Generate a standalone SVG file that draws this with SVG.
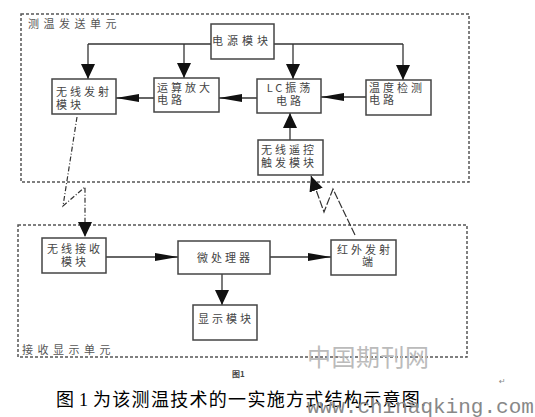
<svg xmlns="http://www.w3.org/2000/svg" width="535" height="417" viewBox="0 0 535 417">
<defs>
<style>
.unit{fill:none;stroke:#555;stroke-width:1.5;stroke-dasharray:3 2}
.box{fill:#fff;stroke:#444;stroke-width:1.5}
.lbl{font-family:"Noto Sans CJK SC","Liberation Sans",sans-serif;font-size:11px;fill:#444;letter-spacing:3px}
.ttl{font-family:"Noto Sans CJK SC","Liberation Sans",sans-serif;font-size:11px;fill:#555;letter-spacing:4.5px}
.ln{fill:none;stroke:#333;stroke-width:1.3}
.air{fill:none;stroke:#333;stroke-width:1.2;stroke-dasharray:5 2 1 2}
.air2{fill:none;stroke:#333;stroke-width:1.2;stroke-dasharray:8 2}
.cap{font-family:"Liberation Serif","Noto Sans CJK SC",serif;font-size:18px;fill:#000}
</style>
<marker id="big" markerUnits="userSpaceOnUse" markerWidth="16" markerHeight="14" viewBox="0 0 16 14" refX="15" refY="7" orient="auto">
<path d="M0,0 L15,7 L0,14 Z" fill="#111"/>
</marker>
<marker id="slim" markerUnits="userSpaceOnUse" markerWidth="24" markerHeight="10" viewBox="0 0 24 10" refX="23" refY="5" orient="auto">
<path d="M0,1 L23,5 L0,9 Z" fill="#111"/>
</marker>
</defs>
<rect width="535" height="417" fill="#fff"/>

<g id="unit-send">
<rect class="unit" x="21" y="14" width="448" height="168"/>
<text class="ttl" x="28" y="28">测温发送单元</text>
</g>
<g id="unit-recv">
<rect class="unit" x="18" y="225" width="449" height="132"/>
<text class="ttl" x="22" y="354">接收显示单元</text>
</g>

<g id="connectors">
<path class="ln" d="M88,44 H403"/>
<path class="ln" d="M88,44 V79" marker-end="url(#big)"/>
<path class="ln" d="M184,44 V78" marker-end="url(#big)"/>
<path class="ln" d="M293,44 V79" marker-end="url(#big)"/>
<path class="ln" d="M403,44 V80" marker-end="url(#big)"/>
<path class="ln" d="M154,98 H116" marker-end="url(#slim)"/>
<path class="ln" d="M257,98 H219" marker-end="url(#slim)"/>
<path class="ln" d="M366,97 H321" marker-end="url(#slim)"/>
<path class="ln" d="M290,140 V113" marker-end="url(#big)"/>
<path class="ln" d="M106,257 H178" marker-end="url(#slim)"/>
<path class="ln" d="M270,257 H331" marker-end="url(#slim)"/>
<path class="ln" d="M222,274 V305" marker-end="url(#big)"/>
<path class="air" d="M77,117 L63,206 L85,187 V237" marker-end="url(#big)"/>
<path class="air2" d="M355,235 L333,189 L324,212 L311,176" marker-end="url(#big)"/>
</g>

<g id="power">
<rect class="box" x="211" y="24" width="63" height="35"/>
<text class="lbl" x="212" y="45" style="letter-spacing:4px">电源模块</text>
</g>
<g id="tx">
<rect class="box" x="52" y="79" width="64" height="35"/>
<text class="lbl" x="56" y="96">无线发射</text>
<text class="lbl" x="56" y="109">模块</text>
</g>
<g id="amp">
<rect class="box" x="154" y="78" width="65" height="34"/>
<text class="lbl" x="157" y="92">运算放大</text>
<text class="lbl" x="157" y="104">电路</text>
</g>
<g id="lc">
<rect class="box" x="257" y="79" width="64" height="34"/>
<text class="lbl" x="290" y="92" text-anchor="middle">LC振荡</text>
<text class="lbl" x="290" y="105" text-anchor="middle">电路</text>
</g>
<g id="temp">
<rect class="box" x="366" y="80" width="65" height="35"/>
<text class="lbl" x="369" y="92">温度检测</text>
<text class="lbl" x="369" y="104">电路</text>
</g>
<g id="trigger">
<rect class="box" x="258" y="140" width="65" height="35"/>
<text class="lbl" x="261" y="154">无线遥控</text>
<text class="lbl" x="261" y="167">触发模块</text>
</g>
<g id="rx">
<rect class="box" x="42" y="238" width="64" height="35"/>
<text class="lbl" x="75" y="253" text-anchor="middle">无线接收</text>
<text class="lbl" x="75" y="266" text-anchor="middle">模块</text>
</g>
<g id="mcu">
<rect class="box" x="178" y="241" width="92" height="33"/>
<text class="lbl" x="225" y="262" text-anchor="middle">微处理器</text>
</g>
<g id="ir">
<rect class="box" x="331" y="240" width="65" height="35"/>
<text class="lbl" x="365" y="254" text-anchor="middle">红外发射</text>
<text class="lbl" x="369" y="266" text-anchor="middle">端</text>
</g>
<g id="display">
<rect class="box" x="193" y="305" width="64" height="35"/>
<text class="lbl" x="226" y="323" text-anchor="middle">显示模块</text>
</g>

<text x="232" y="377" style="font-family:'Noto Sans CJK SC',sans-serif;font-size:8px;font-weight:bold;fill:#444">图1</text>
<text class="cap" y="406"><tspan x="56">图</tspan><tspan x="79">1</tspan><tspan x="93" style="letter-spacing:1.3px">为该测温技术的一实施方式结构示意图.</tspan></text>
<text x="499" y="384" style="font-family:'DejaVu Sans',sans-serif;font-size:8px;fill:#888">↵</text>
<text x="307" y="366" style="font-family:'Noto Sans CJK SC',sans-serif;font-size:24px;fill:#bbb;letter-spacing:0.5px">中国期刊网</text>
<text x="307" y="413" style="font-family:'Liberation Mono',monospace;font-size:21px;fill:#888">www.chinaqking.com</text>
</svg>
